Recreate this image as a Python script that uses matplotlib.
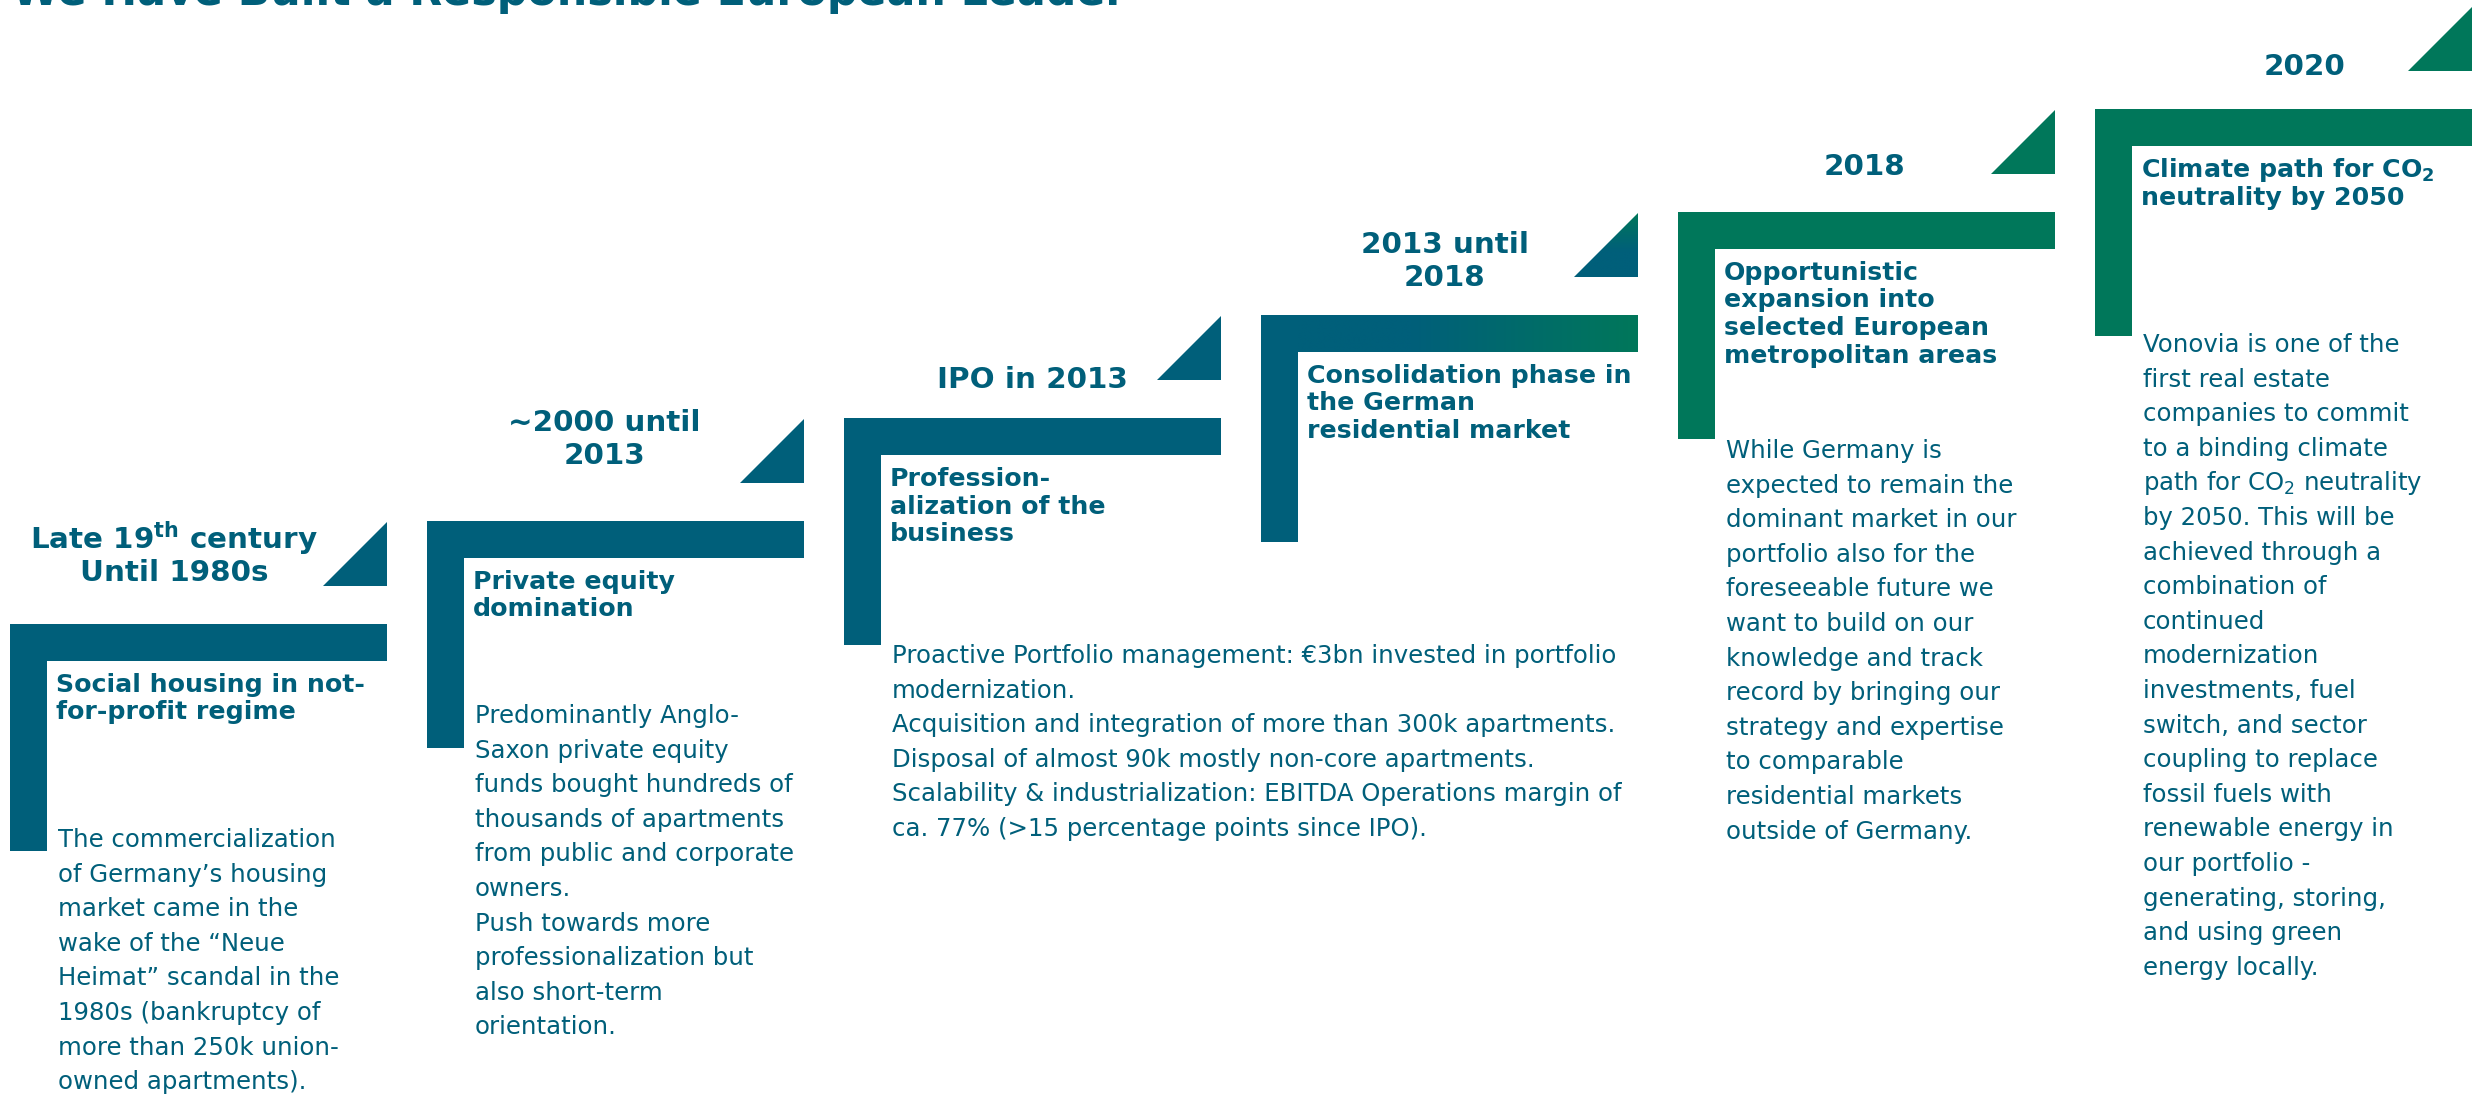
import numpy as np
import matplotlib
matplotlib.use('Agg')
import matplotlib.pyplot as plt
from matplotlib.patches import Rectangle, Polygon
from matplotlib.colors import to_rgb

W, H = 2474, 1098
blue = '#005F7A'
green = '#00775A'
txt = '#005F7A'

title = 'We Have Built a Responsible European Leader'

years = [['Late 19$^{\\mathbf{th}}$ century', 'Until 1980s'],
         ['~2000 until', '2013'],
         ['IPO in 2013'],
         ['2013 until', '2018'],
         ['2018'],
         ['2020']]

headings = [['Social housing in not-', 'for-profit regime'],
            ['Private equity', 'domination'],
            ['Profession-', 'alization of the', 'business'],
            ['Consolidation phase in', 'the German', 'residential market'],
            ['Opportunistic', 'expansion into', 'selected European', 'metropolitan areas'],
            ['Climate path for CO$_{\\mathbf{2}}$', 'neutrality by 2050']]

bodies = [['The commercialization', 'of Germany\u2019s housing', 'market came in the',
           'wake of the \u201cNeue', 'Heimat\u201d scandal in the', '1980s (bankruptcy of',
           'more than 250k union-', 'owned apartments).'],
          ['Predominantly Anglo-', 'Saxon private equity', 'funds bought hundreds of',
           'thousands of apartments', 'from public and corporate', 'owners.',
           'Push towards more', 'professionalization but', 'also short-term', 'orientation.'],
          ['Proactive Portfolio management: \u20ac3bn invested in portfolio', 'modernization.',
           'Acquisition and integration of more than 300k apartments.',
           'Disposal of almost 90k mostly non-core apartments.',
           'Scalability & industrialization: EBITDA Operations margin of',
           'ca. 77% (>15 percentage points since IPO).'],
          [],
          ['While Germany is', 'expected to remain the', 'dominant market in our',
           'portfolio also for the', 'foreseeable future we', 'want to build on our',
           'knowledge and track', 'record by bringing our', 'strategy and expertise',
           'to comparable', 'residential markets', 'outside of Germany.'],
          ['Vonovia is one of the', 'first real estate', 'companies to commit',
           'to a binding climate', 'path for CO$_\\mathrm{2}$ neutrality', 'by 2050. This will be',
           'achieved through a', 'combination of', 'continued', 'modernization',
           'investments, fuel', 'switch, and sector', 'coupling to replace',
           'fossil fuels with', 'renewable energy in', 'our portfolio -',
           'generating, storing,', 'and using green', 'energy locally.']]

step_colors = ['blue', 'blue', 'blue', 'mix', 'green', 'green']

# layout (pixels)
year_x = [174, 604, 1032, 1445, 1864, 2304]
year_y = [537, 420, 377, 242, 164, 64]
body_dy = [215, 194, 237, 0, 238, 235]
bar_w, bar_h, thick, tri = 377, 227, 37, 64

fig = plt.figure(figsize=(W / 100, H / 100), dpi=100)
ax = fig.add_axes([0, 0, 1, 1])
ax.set_xlim(0, W)
ax.set_ylim(H, 0)
ax.axis('off')

cb, cg = np.array(to_rgb(blue)), np.array(to_rgb(green))

for i in range(6):
    L = 10 + 417 * i
    R = L + bar_w
    T = 624 - 103 * i
    c = green if step_colors[i] == 'green' else blue
    # vertical bar
    ax.add_patch(Rectangle((L, T), thick, bar_h, color=c, lw=0))
    tri_pts = [(R - tri, T - 38), (R, T - 38), (R, T - 38 - tri)]
    if step_colors[i] == 'mix':
        t = np.clip((np.linspace(0, 1, 300) - 0.4) / 0.6, 0, 1)
        grad = (cb[None, :] * (1 - t[:, None]) + cg[None, :] * t[:, None])[None, :, :]
        ax.imshow(grad, extent=(L, R, T + thick, T), aspect='auto', interpolation='bilinear')
        s = np.clip(np.linspace(0, 1, 200) / 0.6, 0, 1)
        vgrad = (cg[None, :] * (1 - s[:, None]) + cb[None, :] * s[:, None])[:, None, :]
        im = ax.imshow(vgrad, extent=(R - tri, R, T - 38, T - 38 - tri), aspect='auto',
                       interpolation='bilinear')
        p = Polygon(tri_pts, closed=True, fc='none', ec='none')
        ax.add_patch(p)
        im.set_clip_path(p)
    else:
        ax.add_patch(Rectangle((L, T), bar_w, thick, color=c, lw=0))
        ax.add_patch(Polygon(tri_pts, closed=True, color=c, lw=0))

    for k, line in enumerate(years[i]):
        ax.text(year_x[i], year_y[i] + 11 + 33 * k, line, fontsize=21.2, fontweight='bold',
                color=txt, ha='center', va='baseline')
    for k, line in enumerate(headings[i]):
        ax.text(L + 46, T + 68 + 27.5 * k, line, fontsize=18.2, fontweight='bold',
                color=txt, va='baseline')
    for k, line in enumerate(bodies[i]):
        ax.text(L + 48, T + body_dy[i] + 8 + 34.6 * k, line, fontsize=17.6,
                color=txt, va='baseline')

ax.set_xlim(0, W)
ax.set_ylim(H, 0)

# title sits partly above the top edge, as in the source slide
ax.text(12, 5, title, fontsize=30.8, fontweight='bold', color=txt, va='baseline')

fig.savefig('out.png', dpi=100)
